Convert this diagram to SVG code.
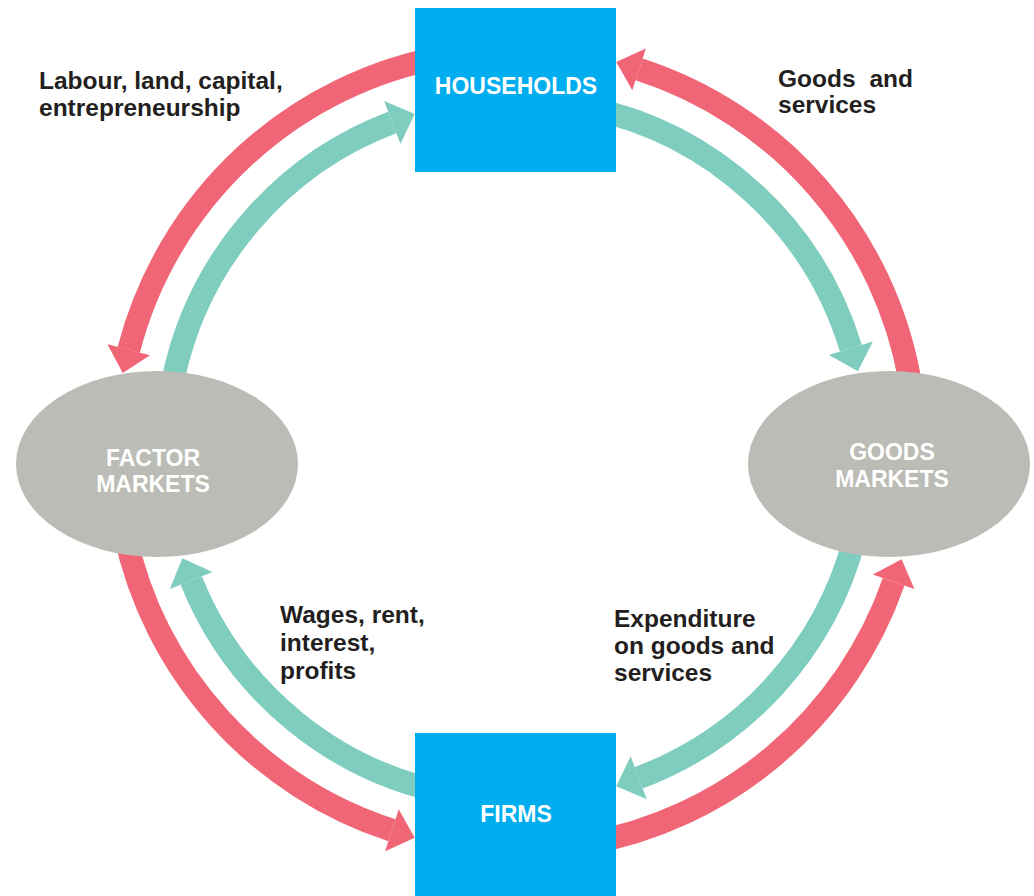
<svg xmlns="http://www.w3.org/2000/svg" width="1034" height="896" viewBox="0 0 1034 896">
<style>
.red{fill:none;stroke:#F06676;stroke-width:23}
.teal{fill:none;stroke:#7ECDBF;stroke-width:23}
.redh{fill:#F06676}
.tealh{fill:#7ECDBF}
.box{fill:#00AEEF}
.ell{fill:#BBBCB6}
.nl{font-family:"Liberation Sans",Arial,sans-serif;font-weight:bold;font-size:23px;fill:#FFFFFF;text-anchor:middle}
.lb{font-family:"Liberation Sans",Arial,sans-serif;font-weight:bold;font-size:24.5px;fill:#231F20}
</style>
<rect width="1034" height="896" fill="#FFFFFF"/>
<g id="connectors">
  <path class="red" d="M 446.54 56.08 A 400 400 0 0 0 128.74 349.85"/>
  <polygon class="redh" points="894,450 938,450 916,426" transform="rotate(194.5 516 450)"/>
  <path class="teal" d="M 173.65 377.23 A 350 350 0 0 1 392.29 122.60"/>
  <polygon class="tealh" points="843,450 889,450 866,474" transform="rotate(249.3 516 450)"/>
  <path class="teal" d="M 588.77 107.65 A 350 350 0 0 1 850.88 348.25"/>
  <polygon class="tealh" points="843,450 889,450 866,474" transform="rotate(343.1 516 450)"/>
  <path class="red" d="M 909.92 380.54 A 400 400 0 0 0 639.05 69.40"/>
  <polygon class="redh" points="894,450 938,450 916,426" transform="rotate(287.92 516 450)"/>
  <path class="red" d="M 124.74 533.16 A 400 400 0 0 0 391.93 830.27"/>
  <polygon class="redh" points="894,450 938,450 916,426" transform="rotate(108.07 516 450)"/>
  <path class="teal" d="M 455.22 794.68 A 350 350 0 0 1 191.26 580.56"/>
  <polygon class="tealh" points="843,450 889,450 866,474" transform="rotate(158.1 516 450)"/>
  <path class="teal" d="M 854.07 540.59 A 350 350 0 0 1 638.73 777.78"/>
  <polygon class="tealh" points="843,450 889,450 866,474" transform="rotate(69.47 516 450)"/>
  <path class="red" d="M 585.46 843.92 A 400 400 0 0 0 893.66 581.81"/>
  <polygon class="redh" points="894,450 938,450 916,426" transform="rotate(19.24 516 450)"/>
</g>
<g id="households">
  <rect class="box" x="415" y="8" width="201" height="164"/>
  <text class="nl" x="516" y="94">HOUSEHOLDS</text>
</g>
<g id="firms">
  <rect class="box" x="415" y="733" width="201" height="170"/>
  <text class="nl" x="516" y="821.5">FIRMS</text>
</g>
<g id="factor-markets">
  <ellipse class="ell" cx="157" cy="464" rx="141" ry="93"/>
  <text class="nl" x="153" y="466">FACTOR</text>
  <text class="nl" x="153" y="492">MARKETS</text>
</g>
<g id="goods-markets">
  <ellipse class="ell" cx="889" cy="464" rx="141" ry="93"/>
  <text class="nl" x="892" y="460">GOODS</text>
  <text class="nl" x="892" y="487">MARKETS</text>
</g>
<g id="labels">
  <text class="lb" x="39" y="89">Labour, land, capital,</text>
  <text class="lb" x="39" y="116">entrepreneurship</text>
  <text class="lb" x="778" y="87" word-spacing="7">Goods and</text>
  <text class="lb" x="778" y="113">services</text>
  <text class="lb" x="280" y="623">Wages, rent,</text>
  <text class="lb" x="280" y="651">interest,</text>
  <text class="lb" x="280" y="679">profits</text>
  <text class="lb" x="614" y="627">Expenditure</text>
  <text class="lb" x="614" y="654">on goods and</text>
  <text class="lb" x="614" y="681">services</text>
</g>
</svg>
